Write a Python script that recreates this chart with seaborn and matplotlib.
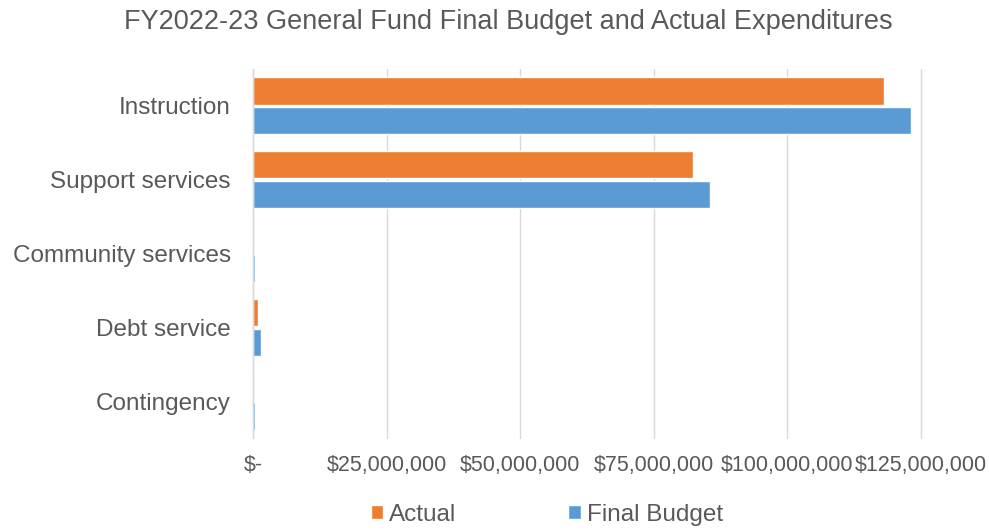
import matplotlib
matplotlib.use("Agg")
import matplotlib.pyplot as plt
from matplotlib.ticker import FuncFormatter
import pandas as pd
import seaborn as sns

# values (dollars)
categories = ["Instruction", "Support services", "Community services", "Debt service", "Contingency"]
actual = [118_000_000, 82_400_000, 0, 900_000, 0]
final_budget = [123_200_000, 85_600_000, 400_000, 1_450_000, 450_000]
x_ticks = [0, 25_000_000, 50_000_000, 75_000_000, 100_000_000, 125_000_000]

df = pd.DataFrame({
    "Category": categories * 2,
    "Series": ["Actual"] * len(categories) + ["Final Budget"] * len(categories),
    "Amount": actual + final_budget,
})

sns.set_theme(style="white")
plt.rcParams["font.family"] = ["Liberation Sans", "DejaVu Sans"]

text_color = "#595959"
palette = {"Actual": "#ED7D31", "Final Budget": "#5B9BD5"}

fig = plt.figure(figsize=(9.89, 5.31), dpi=100)
ax = fig.add_axes([253 / 989, 1 - 438 / 531, (921 - 253) / 989, (438 - 69) / 531])

sns.barplot(data=df, y="Category", x="Amount", hue="Series", palette=palette,
            order=categories, hue_order=["Actual", "Final Budget"],
            width=0.81, gap=0.09, saturation=1, orient="h", ax=ax, legend=True)

ax.set_xlim(0, 125_000_000)
ax.set_ylim(4.5, -0.5)
ax.set_xticks(x_ticks)
ax.xaxis.set_major_formatter(FuncFormatter(lambda v, p: "$-" if v == 0 else f"${v:,.0f}"))
ax.grid(axis="x", color="#D9D9D9", linewidth=1)
ax.grid(axis="y", visible=False)
for line in ax.get_xgridlines():
    line.set_clip_on(False)
ax.set_axisbelow(True)
for side in ["top", "right", "bottom"]:
    ax.spines[side].set_visible(False)
ax.spines["left"].set_color("#D9D9D9")
ax.spines["left"].set_linewidth(1)
ax.tick_params(axis="both", length=0, colors=text_color)
ax.tick_params(axis="x", pad=12, labelsize=15.5)
ax.tick_params(axis="y", pad=16, labelsize=17.5)
ax.set_xlabel("")
ax.set_ylabel("")

handles, labels = ax.get_legend_handles_labels()
ax.get_legend().remove()
fig.legend(handles, labels, loc="center", bbox_to_anchor=(547 / 989, 1 - 515 / 531),
           ncol=2, frameon=False, fontsize=17.5, labelcolor=text_color,
           handlelength=0.5, handleheight=0.5, handletextpad=0.25, columnspacing=4.6)

fig.suptitle("FY2022-23 General Fund Final Budget and Actual Expenditures",
             x=508 / 989, y=1 - 22 / 531, va="center", fontsize=19.5, color=text_color)

fig.savefig("out.png", dpi=100)
